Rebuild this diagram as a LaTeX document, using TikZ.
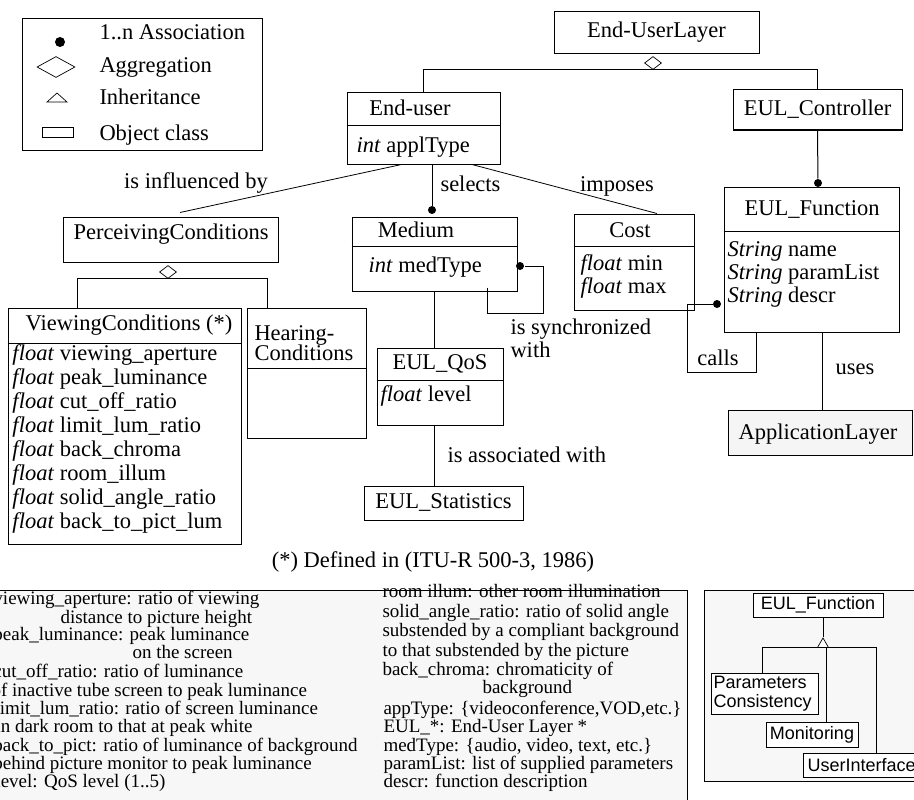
\documentclass[tikz,border=0pt]{standalone}
\usepackage{fontspec}
\setmainfont{Liberation Serif}
\newfontfamily\hsans{Liberation Sans}
\usetikzlibrary{positioning,fit,shapes.geometric}

\begin{document}
\begin{tikzpicture}[x=1pt, y=-1pt, line width=1pt,
    % styles
    box/.style={draw, fill=white, inner sep=0pt},
    lbl/.style={inner sep=0pt, font=\fontsize{22.5}{24}\selectfont, text height=15pt, text depth=5pt},
    note/.style={inner sep=0pt, anchor=west, font=\fontsize{19}{19}\selectfont, text height=12pt, text depth=3.5pt},
    sf/.style={inner sep=0pt, font=\hsans\fontsize{18}{19}\selectfont},
    assoc/.style={circle, fill, inner sep=0pt, minimum size=8pt},
    aggr/.style={diamond, draw, fill=white, inner sep=0pt, line width=0.7pt, minimum width=17pt, minimum height=13pt},
    inh/.style={regular polygon, regular polygon sides=3, draw, fill=white, inner sep=0pt, line width=0.7pt, minimum size=12.7pt},
    panel/.style={draw, fill=black!3, inner sep=0pt},
    link/.style={line width=0.8pt},
    ]
    \useasboundingbox (0,0) rectangle (914,800);
    \clip (0,0) rectangle (914,800);

    % legend
    \node[box, line width=0.8pt, fit={(22,18)(262,150)}] (legend) {};
    \node[assoc, minimum size=10pt] (lgdot) at (60,42) {};
    \node[aggr, minimum width=38pt, minimum height=21pt] (lgdia) at (56,67) {};
    \draw[line width=0.7pt] (47,102) -- (57,93) -- (67,102) -- cycle;
    \node[box, line width=0.8pt, minimum width=31pt, minimum height=10pt] (lgbox) at (57.5,132) {};
    \node[lbl, anchor=west] at (99,35) {1..n Association};
    \node[lbl, anchor=west] at (99,68) {Aggregation};
    \node[lbl, anchor=west] at (99,99) {Inheritance};
    \node[lbl, anchor=west] at (99,135) {Object class};

    % classes
    \node[box, fit={(554,12)(759,54)}] (eul) {};
    \node[lbl] at (eul.center) {End-UserLayer};
    \node[aggr] (agg1) at (653,63) {};

    \node[box, fit={(733,90)(902,130)}] (ctrl) {};
    \node[lbl] at (ctrl.center) {EUL\_Controller};

    \node[box, fit={(347,93)(500,164)}] (user) {};
    \draw (user.west |- 0,126) -- (user.east |- 0,126);
    \node[lbl] at (410,110) {End-user};
    \node[lbl, anchor=west] at (356,147) {\textit{int} applType};

    \node[box, fit={(352,217)(517,291)}] (medium) {};
    \draw (medium.west |- 0,246) -- (medium.east |- 0,246);
    \node[lbl] at (416,232) {Medium};
    \node[lbl, anchor=west] at (368,267) {\textit{int} medType};

    \node[box, fit={(574,214)(694,310)}] (cost) {};
    \draw (cost.west |- 0,246) -- (cost.east |- 0,246);
    \node[lbl] at (630,232) {Cost};
    \node[lbl, anchor=west] at (580,265) {\textit{float} min};
    \node[lbl, anchor=west] at (580,288) {\textit{float} max};

    \node[box, fit={(724,187)(899,332)}] (func) {};
    \draw (func.west |- 0,231) -- (func.east |- 0,231);
    \node[lbl] at (812,210) {EUL\_Function};
    \foreach \t [count=\i] in {name, paramList, descr}
        \node[lbl, anchor=west] at (727,228+23*\i) {\textit{String} \t};

    \node[box, fill=black!4, fit={(728,410)(912,455)}] (app) {};
    \node[lbl] at (818,434) {ApplicationLayer};

    \node[box, fit={(63,217)(278,262)}] (perc) {};
    \node[lbl] at (171,234) {PerceivingConditions};
    \node[aggr] (agg2) at (168,272) {};

    \node[box, fit={(8,308)(241,544)}] (view) {};
    \draw (view.west |- 0,343) -- (view.east |- 0,343);
    \node[lbl] at (129,325) {ViewingConditions (*)};
    \foreach \t [count=\i] in {viewing\_aperture, peak\_luminance, cut\_off\_ratio, limit\_lum\_ratio,
        back\_chroma, room\_illum, solid\_angle\_ratio, back\_to\_pict\_lum}
        \node[lbl, anchor=west] at (12,331+24*\i) {\textit{float} \t};

    \node[box, fit={(247,308)(366,438)}] (hear) {};
    \draw (hear.west |- 0,368) -- (hear.east |- 0,368);
    \node[lbl, anchor=west, text height=14pt, text depth=4pt] at (254,335) {Hearing-};
    \node[lbl, anchor=west, text height=14pt, text depth=4pt] at (254,355) {Conditions};

    \node[box, fit={(377,348)(503,425)}] (qos) {};
    \draw (qos.west |- 0,380) -- (qos.east |- 0,380);
    \node[lbl] at (440,364) {EUL\_QoS};
    \node[lbl, anchor=west] at (380,396) {\textit{float} level};

    \node[box, fit={(364,486)(523,520)}] (stats) {};
    \node[lbl] at (stats.center) {EUL\_Statistics};

    % association ends
    \node[assoc] (selD) at (432,210) {};
    \node[assoc] (syncD) at (520,266) {};
    \node[assoc] (callD) at (717,304) {};
    \node[assoc] (funD) at (818,183) {};
    \coordinate (syncC) at (543,313);
    \coordinate (callC) at (687,372);

    % links
    \draw (agg1.south) -| (user.north);
    \draw (agg1.south) -| (ctrl.north);
    \draw (ctrl.south) -- (funD);
    \draw[link] ([xshift=-22pt]user.south) -- ([xshift=9.5pt,yshift=4pt]perc.north);
    \draw ([xshift=8.5pt]user.south) -- (selD);
    \draw[link] ([xshift=48.5pt]user.south) -- ([xshift=23pt]cost.north);
    \draw (medium.south) -- (medium.south |- qos.north);
    \draw ([xshift=-6pt]qos.south) -- ([xshift=-6pt]qos.south |- stats.north);
    \draw ([xshift=52.5pt,yshift=4pt]medium.south) |- (syncC) |- (syncD);
    \draw ([xshift=-55.5pt]func.south) |- (callC) |- (callD);
    \draw ([xshift=10.5pt]func.south) -- ([xshift=10.5pt]func.south |- app.north);
    \draw (agg2.south) -| ([xshift=-47.5pt]view.north);
    \draw (agg2.south) -| ([xshift=-39.5pt]hear.north);

    % link labels
    \node[lbl] at (196,183) {is influenced by};
    \node[lbl, anchor=west] at (440,186) {selects};
    \node[lbl] at (617,186) {imposes};
    \node[lbl, anchor=west] at (510,329) {is synchronized};
    \node[lbl, anchor=west] at (510,352) {with};
    \node[lbl] at (718,360) {calls};
    \node[lbl] at (855,369) {uses};
    \node[lbl, anchor=west] at (447,457) {is associated with};
    \node[lbl] at (433,562) {(*) Defined in (ITU-R 500-3, 1986)};

    % glossary
    \node[panel, fit={(-5,590)(687,806)}] (gloss) {};
    \foreach \y/\x/\t in {600/-7/{viewing\_aperture: ratio of viewing},
        619/60/{distance to picture height},
        636/-7/{peak\_luminance: peak luminance},
        654/132/{on the screen},
        673/-7/{cut\_off\_ratio: ratio of luminance},
        692/-9/{of inactive tube screen to peak luminance},
        710/-6/{limit\_lum\_ratio: ratio of screen luminance},
        728/-5/{in dark room to that at peak white},
        747/-7/{back\_to\_pict: ratio of luminance of background},
        765/-7/{behind picture monitor to peak luminance},
        783/-5/{level: QoS level (1..5)},
        593/382/{room illum: other room illumination},
        613/382/{solid\_angle\_ratio: ratio of solid angle},
        632/382/{substended by a compliant background},
        652/382/{to that substended by the picture},
        671/382/{back\_chroma: chromaticity of},
        689/482/{background},
        710/383/{appType: \{videoconference,VOD,etc.\}},
        728/383/{EUL\_*: End-User Layer *},
        747/383/{medType: \{audio, video, text, etc.\}},
        765/383/{paramList: list of supplied parameters},
        783/383/{descr: function description}}
        \node[note] at (\x,\y) {\t};

    % function hierarchy
    \node[panel, fit={(704,590)(920,781)}] (hier) {};
    \node[box, line width=0.8pt, fit={(753,593)(883,617)}] (sfunc) {};
    \node[sf] at (sfunc.center) {EUL\_Function};
    \node[inh] (inh) at (823,644.3) {};
    \node[box, line width=0.8pt, fit={(711,673)(818,714)}] (pcons) {};
    \node[sf, align=left, anchor=west] at (713,694) {Parameters\\Consistency};
    \node[box, line width=0.8pt, fit={(766,722)(858,747)}] (mon) {};
    \node[sf] at (mon.center) {Monitoring};
    \node[box, line width=0.8pt, fit={(803,753)(918,777)}] (ui) {};
    \node[sf, anchor=west] at (807,765) {UserInterface};
    \draw[link] ([xshift=5pt]sfunc.south) -- (inh.north);
    \draw[link] (inh.south) -| ([xshift=-2.5pt]pcons.north);
    \draw[link] (inh.south) -| ([xshift=14pt]mon.north);
    \draw[link] (inh.south) -| ([xshift=15.5pt]ui.north);
\end{tikzpicture}
\end{document}
